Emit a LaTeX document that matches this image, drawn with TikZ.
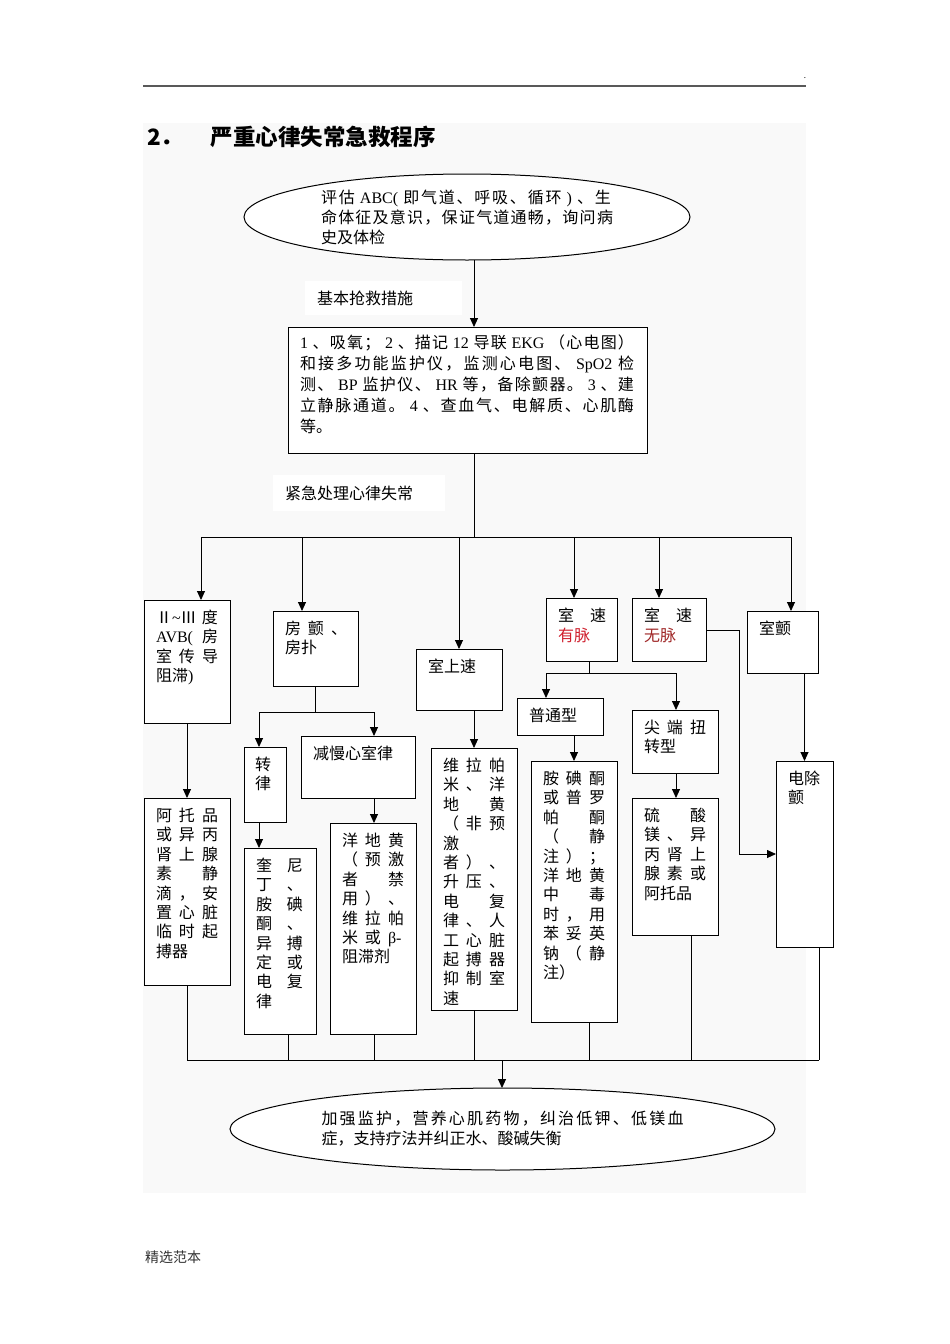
\documentclass[tikz,border=0pt]{standalone}
\usepackage{fontspec}
\setmainfont{Noto Sans CJK SC}
\newfontfamily\en{Liberation Serif}
\usetikzlibrary{arrows.meta,shapes.geometric}
% stretchable glue between Han characters, for justified lines
\XeTeXinterchartokenstate=1
\newXeTeXintercharclass\hanclass
\makeatletter
\count@="3000
\loop\XeTeXcharclass\count@=\hanclass\ifnum\count@<"9FFF\advance\count@ 1\repeat
\count@="FF00
\loop\XeTeXcharclass\count@=\hanclass\ifnum\count@<"FFEF\advance\count@ 1\repeat
\makeatother
\XeTeXinterchartoks\hanclass\hanclass={\hskip0pt plus 2pt\relax}
\definecolor{pagebg}{HTML}{F9F9F9}
\definecolor{pulse}{HTML}{D0202E}
\definecolor{nopulse}{HTML}{A02828}
\newcommand{\tri}[3]{\makebox[23pt][l]{#1}\makebox[23pt][l]{#2}#3}
\newcommand{\duo}[2]{\makebox[31pt][l]{#1}#2}
\newcommand{\jl}[2]{\makebox[#1][s]{#2}}

\begin{document}
\begin{tikzpicture}[x=1pt,y=-1pt,inner sep=0pt,outer sep=0pt,line width=0.9pt,
font=\fontsize{16}{19.4}\selectfont,
sysbox/.style={draw,rectangle,fill=white,line width=1pt},
oval/.style={draw,ellipse,fill=white,line width=1pt},
tagbox/.style={fill=white,align=left,inner xsep=12pt},
txt/.style={anchor=north west,align=left,xshift=12pt,yshift=-10pt},
arr/.style={-{Triangle[length=9pt,width=8pt]}}]
\useasboundingbox (0,0) rectangle (950,1344);
\fill[pagebg] (143,123) rectangle (806,1193);
\draw[line width=2pt,black!65] (143,86) -- (806,86);
\draw (805,78) node[font=\fontsize{8}{8}\selectfont] (dot) {.};
\draw (147,137) node[anchor=west,font=\fontsize{22.5}{26}\selectfont\bfseries] (title) {\makebox[64pt][l]{2．}严重心律失常急救程序};
\draw (145,1257) node[anchor=west,font=\fontsize{14}{16}\selectfont,text=black!80] (foot) {精选范本};

\draw (467,217) node[oval,minimum width=446,minimum height=86,align=left,font=\fontsize{16}{20}\selectfont] (assess)
 {\jl{290pt}{评估 {\en ABC(} 即气道、呼吸、循环 {\en )} 、生}\\ \jl{292pt}{命体征及意识，保证气道通畅，询问病}\\ 史及体检};
\draw (383.5,298) node[tagbox,text width=133pt,minimum height=34] (basiclbl) {基本抢救措施};
\draw (467.5,390) node[sysbox,minimum width=359,minimum height=126,
 label={[txt,yshift=2pt,font=\fontsize{16}{21}\selectfont]north west:{%
 \jl{334pt}{{\en 1} 、吸氧； {\en 2} 、描记 {\en 12} 导联 {\en EKG} （心电图）}\\
 \jl{334pt}{和接多功能监护仪，监测心电图、 {\en SpO2} 检}\\
 \jl{334pt}{测、 {\en BP} 监护仪、 {\en HR} 等，备除颤器。 {\en 3} 、建}\\
 \jl{334pt}{立静脉通道。 {\en 4} 、查血气、电解质、心肌酶}\\
 等。}}] (basic) {};
\draw (359,493) node[tagbox,text width=148pt,minimum height=36] (urgentlbl) {紧急处理心律失常};

\draw (187,661.5) node[sysbox,minimum width=86,minimum height=123,
 label={[txt]north west:{\makebox[46pt][l]{Ⅱ{\en\char`\~}Ⅲ}度\\ \makebox[46pt][l]{\en AVB(}房\\ \tri{室}{传}{导}\\ 阻滞{\en )}}}] (avb) {};
\draw (315.5,648.5) node[sysbox,minimum width=85,minimum height=75,
 label={[txt]north west:{\tri{房}{颤}{、}\\ 房扑}}] (af) {};
\draw (459,679.5) node[sysbox,minimum width=86,minimum height=61,
 label={[txt]north west:{室上速}}] (svt) {};
\draw (581.5,629.5) node[sysbox,minimum width=71,minimum height=63,
 label={[txt]north west:{\makebox[32pt][l]{室}速\\ \textcolor{pulse}{有脉}}}] (vtp) {};
\draw (669,629.5) node[sysbox,minimum width=74,minimum height=63,
 label={[txt]north west:{\makebox[32pt][l]{室}速\\ \textcolor{nopulse}{无脉}}}] (vtn) {};
\draw (782.5,642) node[sysbox,minimum width=71,minimum height=62,
 label={[txt]north west:{室颤}}] (vf) {};

\draw (265,784.5) node[sysbox,minimum width=42,minimum height=75,
 label={[txt,xshift=-1pt]north west:{转\\ 律}}] (cv) {};
\draw (358,767) node[sysbox,minimum width=114,minimum height=62,
 label={[txt]north west:{减慢心室律}}] (rate) {};
\draw (560,716.5) node[sysbox,minimum width=86,minimum height=37,
 label={[txt]north west:{普通型}}] (norm) {};
\draw (675,741.5) node[sysbox,minimum width=86,minimum height=63,
 label={[txt]north west:{\tri{尖}{端}{扭}\\ 转型}}] (tdp) {};

\draw (187,891.5) node[sysbox,minimum width=86,minimum height=187,
 label={[txt]north west:{\tri{阿}{托}{品}\\ \tri{或}{异}{丙}\\ \tri{肾}{上}{腺}\\ \tri{素}{}{静}\\ \tri{滴}{，}{安}\\ \tri{置}{心}{脏}\\ \tri{临}{时}{起}\\ 搏器}}] (atro) {};
\draw (280,941) node[sysbox,minimum width=72,minimum height=186,
 label={[txt]north west:{\duo{奎}{尼}\\ \duo{丁}{、}\\ \duo{胺}{碘}\\ \duo{酮}{、}\\ \duo{异}{搏}\\ \duo{定}{或}\\ \duo{电}{复}\\ 律}}] (quin) {};
\draw (373,928.5) node[sysbox,minimum width=86,minimum height=211,
 label={[txt]north west:{\tri{洋}{地}{黄}\\ \tri{（}{预}{激}\\ \tri{者}{}{禁}\\ \tri{用}{）}{、}\\ \tri{维}{拉}{帕}\\ \tri{米}{或}{\en β-}\\ 阻滞剂}}] (dig) {};
\draw (474,879) node[sysbox,minimum width=86,minimum height=262,
 label={[txt]north west:{\tri{维}{拉}{帕}\\ \tri{米}{、}{洋}\\ \tri{地}{}{黄}\\ \tri{（}{非}{预}\\ 激\\ \tri{者}{）}{、}\\ \tri{升}{压}{、}\\ \tri{电}{}{复}\\ \tri{律}{、}{人}\\ \tri{工}{心}{脏}\\ \tri{起}{搏}{器}\\ \tri{抑}{制}{室}\\ 速}}] (vera) {};
\draw (574,891.5) node[sysbox,minimum width=86,minimum height=261,
 label={[txt]north west:{\tri{胺}{碘}{酮}\\ \tri{或}{普}{罗}\\ \tri{帕}{}{酮}\\ \tri{（}{}{静}\\ \tri{注}{）}{；}\\ \tri{洋}{地}{黄}\\ \tri{中}{}{毒}\\ \tri{时}{，}{用}\\ \tri{苯}{妥}{英}\\ \tri{钠}{（}{静}\\ 注）}}] (amio) {};
\draw (675,866.5) node[sysbox,minimum width=86,minimum height=137,
 label={[txt]north west:{\tri{硫}{}{酸}\\ \tri{镁}{、}{异}\\ \tri{丙}{肾}{上}\\ \tri{腺}{素}{或}\\ 阿托品}}] (mg) {};
\draw (804.5,854) node[sysbox,minimum width=57,minimum height=186,
 label={[txt]north west:{电除\\ 颤}}] (defib) {};

\draw (502.5,1129) node[oval,minimum width=545,minimum height=82,align=left,font=\fontsize{16}{20}\selectfont] (care)
 {\jl{362pt}{加强监护，营养心肌药物，纠治低钾、低镁血}\\ 症，支持疗法并纠正水、酸碱失衡};

% trunk and first split
\coordinate (trunk) at (474,0);
\coordinate (b1) at (201,537);
\coordinate (b2) at (302,537);
\coordinate (b3) at (459,537);
\coordinate (b4) at (574,537);
\coordinate (b5) at (659,537);
\coordinate (b6) at (791,537);
\draw[arr] (assess.south -| trunk) -- (basic.north -| trunk);
\draw (basic.south -| trunk) -- (trunk |- b1);
\draw (b1) -- (b6);
\draw[arr] (b1) -- (b1 |- avb.north);
\draw[arr] (b2) -- (b2 |- af.north);
\draw[arr] (b3) -- (b3 |- svt.north);
\draw[arr] (b4) -- (b4 |- vtp.north);
\draw[arr] (b5) -- (b5 |- vtn.north);
\draw[arr] (b6) -- (b6 |- vf.north);

\draw[arr] (avb.south) -- (atro.north);
\coordinate (afL) at (259,712);
\coordinate (afR) at (374,712);
\draw (af.south) -- (af.south |- afL);
\draw (afL) -- (afR);
\draw[arr] (afL) -- (afL |- cv.north);
\draw[arr] (afR) -- (afR |- rate.north);
\draw[arr] (cv.south -| afL) -- (afL |- quin.north);
\draw[arr] (rate.south -| afR) -- (afR |- dig.north);
\draw[arr] (svt.south -| trunk) -- (vera.north);

\coordinate (vtL) at (546,673);
\coordinate (vtR) at (676,673);
\coordinate (vtM) at (589,673);
\draw (vtp.south -| vtM) -- (vtM);
\draw (vtL) -- (vtR);
\draw[arr] (vtL) -- (vtL |- norm.north);
\draw[arr] (vtR) -- (vtR |- tdp.north);
\draw[arr] (norm.south -| amio.north) -- (amio.north);
\draw[arr] (tdp.south -| vtR) -- (vtR |- mg.north);

\coordinate (turn) at (739,630);
\draw[arr] (vtn.east |- turn) -- (turn) |- (defib.west);
\draw[arr] (defib.north |- vf.south) -- (defib.north);

% join to final step
\coordinate (j1) at (187,1060);
\coordinate (j2) at (288,1060);
\coordinate (j3) at (374,1060);
\coordinate (j4) at (474,1060);
\coordinate (j5) at (589,1060);
\coordinate (j6) at (691,1060);
\coordinate (j7) at (819,1060);
\coordinate (j0) at (502,1060);
\draw (j1) -- (j7);
\draw (j1 |- atro.south) -- (j1);
\draw (j2 |- quin.south) -- (j2);
\draw (j3 |- dig.south) -- (j3);
\draw (j4 |- vera.south) -- (j4);
\draw (j5 |- amio.south) -- (j5);
\draw (j6 |- mg.south) -- (j6);
\draw (j7 |- defib.south) -- (j7);
\draw[arr] (j0) -- (j0 |- care.north);
\end{tikzpicture}
\end{document}
